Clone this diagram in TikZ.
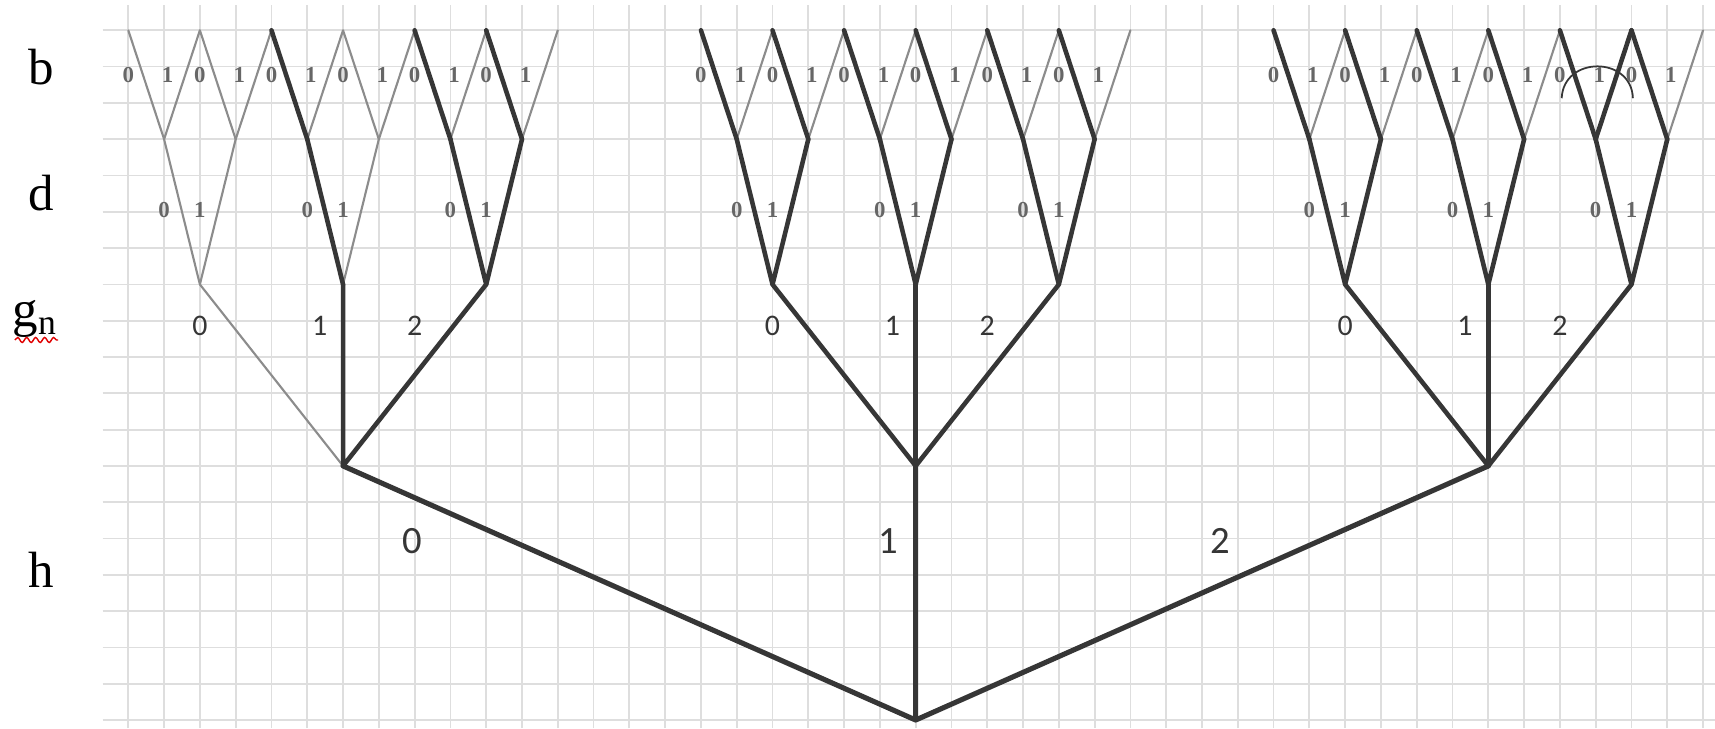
\documentclass[tikz,border=0pt]{standalone}
\usepackage{fontspec}
\setmainfont{Liberation Serif}
\newfontfamily\digitfont{Carlito}
\usepackage{tikz}
\usetikzlibrary{decorations.pathmorphing}
\definecolor{TreeInk}{HTML}{363636}
\definecolor{TreeFaint}{HTML}{8C8C8C}
\definecolor{PaperGrid}{HTML}{DEDEDE}
\definecolor{BitInk}{HTML}{666666}
\definecolor{SpellRed}{HTML}{E00000}

\begin{document}
\begin{tikzpicture}[
  x=0.3579cm, y=0.363cm,
  strong/.style={draw=TreeInk,line width=1.3pt,line join=round,line cap=round},
  trunk/.style={strong,line width=1.45pt},
  weak/.style={draw=TreeFaint,line width=0.6pt,line cap=round},
  level/.style={font=\fontsize{14.5}{16}\selectfont,anchor=base,inner sep=0pt},
  digit/.style={font=\digitfont\fontsize{8.5}{10}\selectfont,text=TreeInk,inner sep=0pt},
  bigdigit/.style={font=\digitfont\fontsize{11}{12}\selectfont,text=TreeInk,inner sep=0pt},
  bit/.style={font=\fontsize{6.5}{7}\selectfont\bfseries,text=BitInk,inner sep=0pt},
]
  \useasboundingbox (-3.585,-0.22) rectangle (44.334,19.835);
  \fill[white] (-3.585,-0.22) rectangle (44.334,19.835);

  % graph paper
  \foreach \k in {0,...,44}
    \draw[PaperGrid,line width=0.5pt] (\k,-0.22) -- (\k,19.7);
  \foreach \r in {0,...,19}
    \draw[PaperGrid,line width=0.5pt] (-0.72,\r) -- (44.334,\r);

  % tree points
  \coordinate (r) at (22,0);
  \foreach \c in {6,22,38}
    \coordinate (h\c) at (\c,7);
  \foreach \k in {2,6,10,18,22,26,34,38,42}
    \coordinate (g\k) at (\k,12);
  \foreach \k in {1,3,5,7,9,11,17,19,21,23,25,27,33,35,37,39,41,43}
    \coordinate (d\k) at (\k,16);
  \foreach \k in {0,2,4,6,8,10,12,16,18,20,22,24,26,28,32,34,36,38,40,42,44}
    \coordinate (t\k) at (\k,19);

  % faint branches
  \draw[weak] (h6) -- (g2);
  \draw[weak] (g2) -- (d1) (g2) -- (d3) (g6) -- (d7);
  \foreach \k [evaluate=\k as \rgt using int(\k+1)] in {1,3,5,7,9,11,17,19,21,23,25,27,33,35,37,39,43}
    \draw[weak] (d\k) -- (t\rgt);
  \draw[weak] (d1) -- (t0) (d3) -- (t2) (d7) -- (t6);

  % heavy branches
  \draw[trunk] (r) -- (h6) (r) -- (h22) (r) -- (h38);
  \draw[strong] (h6) -- (g6) (h6) -- (g10);
  \draw[strong] (g6) -- (d5) (g10) -- (d9) (g10) -- (d11);
  \draw[strong] (d5) -- (t4) (d9) -- (t8) (d11) -- (t10);
  \foreach \c in {22,38}{
    \foreach \dx in {-4,0,4}
      \draw[strong] (h\c) -- (g\the\numexpr\c+\dx\relax);
  }
  \foreach \k [evaluate=\k as \lft using int(\k-1)] in {18,22,26,34,38,42}
    \draw[strong] (d\lft) -- (g\k) -- (d\the\numexpr\k+1\relax);
  \foreach \k [evaluate=\k as \lft using int(\k-1)] in {17,19,21,23,25,27,33,35,37,39,41,43}
    \draw[strong] (d\k) -- (t\lft);
  \draw[strong] (d41) -- (t42);
  \draw[TreeInk,line width=0.5pt] (40.05,17.13) .. controls (40.1,18.3) and (42.0,18.3) .. (42.04,17.13);

  % level names
  \node[level] (lb) at (-2.42,17.52) {b};
  \node[level] (ld) at (-2.42,14.05) {d};
  \node[level] (lg) at (-2.6,10.83) {g\textsubscript{n}};
  \node[level] (lh) at (-2.42,3.66) {h};
  \draw[SpellRed,line width=0.4pt,decorate,decoration={snake,segment length=0.9mm,amplitude=0.25mm}] (-3.17,10.47) -- (-1.96,10.47);

  % branch values
  \foreach \k [evaluate=\k as \lft using int(\k-1)] in {1,3,5,7,9,11,17,19,21,23,25,27,33,35,37,39,41,43}{
    \node[bit] (bz\k) at (\lft,17.77) {0};
    \node[bit] (bo\k) at (\k+0.1,17.77) {1};
  }
  \foreach \k [evaluate=\k as \lft using int(\k-1)] in {2,6,10,18,22,26,34,38,42}{
    \node[bit] (dz\k) at (\lft,14.05) {0};
    \node[bit] (do\k) at (\k,14.05) {1};
  }
  \foreach \c in {6,22,38}{
    \node[digit] (gz\c) at (\c-4,10.85) {0};
    \node[digit] (go\c) at (\c-0.65,10.85) {1};
    \node[digit] (gt\c) at (\c+2,10.85) {2};
  }
  \node[bigdigit] (hz) at (7.94,4.92) {0};
  \node[bigdigit] (ho) at (21.23,4.92) {1};
  \node[bigdigit] (ht) at (30.5,4.92) {2};
\end{tikzpicture}
\end{document}
